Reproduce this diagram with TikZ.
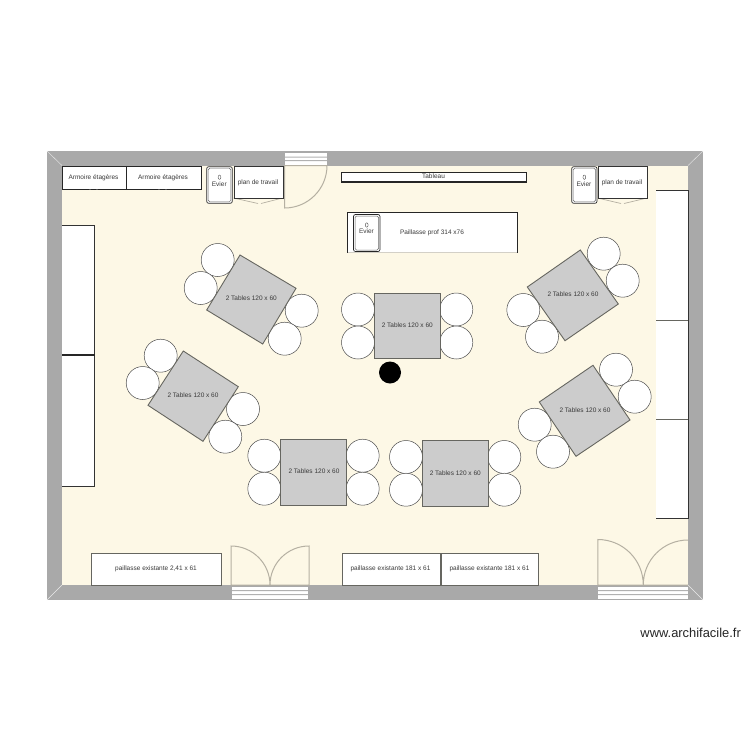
\documentclass[tikz,border=0pt]{standalone}
\usepackage{fontspec}
\setmainfont{Liberation Sans}
\definecolor{wallc}{HTML}{A9A9A9}
\definecolor{floorc}{HTML}{FDF8E6}
\definecolor{tablec}{HTML}{CCCCCC}
\definecolor{edgec}{HTML}{666660}
\definecolor{doorc}{HTML}{B5B0A2}
\definecolor{txtc}{HTML}{3A3A3A}
\tikzset{
  lbl/.style={font=\fontsize{6.5}{7}\selectfont,text=txtc,inner sep=0pt,anchor=base,yshift=-2.3pt},
  furn/.style={draw=black!85,fill=white,line width=0.9pt},
  furnsoft/.style={draw=edgec,fill=white,line width=0.9pt},
  tabl/.style={draw=edgec,fill=tablec,line width=0.9pt},
  chair/.style={draw=black!70,fill=white,line width=0.5pt},
  doorl/.style={draw=doorc,line width=1pt},
}
\newcommand{\chairat}[2]{\draw[chair] (#1,#2) circle (16.5);}
\newcommand{\evier}[4]{% x1 y1 x2 y2
  \draw[draw=black!85,fill=white,line width=0.7pt,rounded corners=2pt] (#1,#2) rectangle (#3,#4);
  \draw[draw=black!60,fill=white,line width=0.5pt,rounded corners=1.5pt] ({#1+1.5},{#2+1.5}) rectangle ({#3-1.5},{#4-1.5});
  \draw[black!70,line width=0.4pt] ({(#1+#3)/2},{#2+10.5}) ellipse (1.4 and 2.2);
}
\begin{document}
\begin{tikzpicture}[x=1pt,y=-1pt]
\useasboundingbox (0,0) rectangle (750,750);
\fill[white] (0,0) rectangle (750,750);
% walls and floor
\fill[wallc] (47,151) rectangle (703,600);
\fill[floorc] (62,165.5) rectangle (688,585);
\draw[white!75!wallc,line width=0.4pt] (47,151) -- (62,165.5) (703,151) -- (688,165.5) (47,600) -- (62,585) (703,600) -- (688,585);
% left and right cupboards
\fill[white] (62,225) rectangle (94.5,486);
\draw[black!80,line width=0.9pt] (62,225) -- (94.5,225) -- (94.5,486) -- (62,486);
\draw[black!85,line width=1.4pt] (62,355) -- (94.5,355);
\fill[white] (656,190) rectangle (688,518);
\draw[black!80,line width=0.9pt] (656,190) -- (688,190) -- (688,518) -- (656,518);
\draw[edgec,line width=1.6pt] (656,320.3) -- (688,320.3);
\draw[edgec,line width=1.2pt] (656,419.5) -- (688,419.5);
% armoires
\node[furn,minimum width=64pt,minimum height=23pt,inner sep=0pt,anchor=north west] (arm1) at (61.5,165.5) {};
\node[furn,minimum width=75pt,minimum height=23pt,inner sep=0pt,anchor=north west] (arm2) at (125.5,165.5) {};
\node[lbl] at (93.5,177.5) {Armoire étagères};
\node[lbl] at (163,177.5) {Armoire étagères};
\draw[black!70,line width=0.6pt,dash pattern=on 2pt off 5pt] (89,189.5) -- (98,189.5) (158,189.5) -- (168,189.5);
% eviers and plans
\evier{206.7}{166.7}{232.3}{203.3}
\node[lbl] (ev1) at (219.3,184.3) {Evier};
\draw[doorc,line width=0.7pt] (233.5,198) -- (258,203.5) (261,203.5) -- (282.5,198);
\node[furnsoft,draw=black!80,minimum width=49pt,minimum height=32.5pt,inner sep=0pt,anchor=north west] (pt1) at (233.5,165.5) {};
\node[lbl] at (258,181.7) {plan de travail};
\evier{571.7}{166.7}{597}{203.3}
\node[lbl] (ev2) at (584,184) {Evier};
\draw[doorc,line width=0.7pt] (597.5,198) -- (621,203.5) (624,203.5) -- (647,198);
\node[furnsoft,draw=black!80,minimum width=49.5pt,minimum height=32.5pt,inner sep=0pt,anchor=north west] (pt2) at (597.5,165.5) {};
\node[lbl] at (622,181.7) {plan de travail};
% top door
\fill[white] (285,152.5) rectangle (327,164.5);
\fill[wallc!90!white] (285,156.5) rectangle (327,157.5) (285,160) rectangle (327,161);
\draw[doorl] (327,165.5) arc (0:90:42.5) -- (284.5,165.5) -- (327,165.5);
% tableau
\node[furn,line width=1.1pt,minimum width=185.5pt,minimum height=9.8pt,inner sep=0pt,anchor=north west] (tab) at (340.5,171.6) {};
\node[lbl] at (433.5,175.7) {Tableau};
% paillasse prof
\fill[white] (347.5,212.7) rectangle (517,252.5);
\draw[black!85,line width=0.9pt] (347.5,252.5) -- (347.5,212.7) -- (517,212.7) -- (517,252.5);
\draw[doorc!60,line width=0.6pt] (347.5,252.5) -- (517,252.5);
\evier{353.5}{214.5}{380}{251.5}
\node[lbl] (ev3) at (366.5,231.5) {Evier};
\node[lbl] at (432,232.3) {Paillasse prof 314 x76};
% paillasses existantes
\node[furnsoft,minimum width=130pt,minimum height=32.5pt,inner sep=0pt,anchor=north west] (pe1) at (90.7,552.7) {};
\node[lbl] at (156,568.5) {paillasse existante 2,41 x 61};
\node[furnsoft,minimum width=98pt,minimum height=32.5pt,inner sep=0pt,anchor=north west] (pe2) at (341.5,552.7) {};
\node[lbl] at (390.5,568.5) {paillasse existante 181 x 61};
\node[furnsoft,minimum width=97.5pt,minimum height=32.5pt,inner sep=0pt,anchor=north west] (pe3) at (440.5,552.7) {};
\node[lbl] at (489.5,568.5) {paillasse existante 181 x 61};
% bottom doors
\fill[white] (232,586.5) rectangle (308,598.5);
\fill[wallc!90!white] (232,590) rectangle (308,591) (232,594) rectangle (308,595);
\draw[doorl] (270,585) arc (0:-90:39) -- (231,585) -- (309,585) -- (309,546) arc (-90:-180:39);
\fill[white] (598,586.5) rectangle (688,598.5);
\fill[wallc!90!white] (598,590) rectangle (688,591) (598,594) rectangle (688,595);
\draw[doorl] (643.3,585) arc (0:-90:45.5) -- (597.8,585) -- (688,585) (688,540) arc (-90:-180:44.7);
% chairs
\foreach \x/\y in {358/309.5,358/342.5,456.3/309.5,456.3/342.5,
  264.3/455.7,264.3/488.7,362.7/455.7,362.7/488.7,
  406/457,406/489.7,504.3/457,504.3/489.7,
  217.7/260,200.7/288,301.7/310.7,284.7/338.7,
  160.7/355.7,142.7/383,243/409,225.3/436.7,
  603.7/253.7,622.7/280.7,523.3/310,542/336.7,
  616/369.7,634.7/396.7,534.7/424.7,553/451.7}{\chairat{\x}{\y}}
% tables
\draw[tabl] (374.3,293.3) rectangle (440,358.7);
\node[lbl] (t1) at (407.3,325.5) {2 Tables 120 x 60};
\draw[tabl,line width=1.2pt] (280.7,439.3) rectangle (346.5,505.3);
\node[lbl] (t2) at (314,471.5) {2 Tables 120 x 60};
\draw[tabl,line width=1.2pt] (422.3,440.7) rectangle (488.5,506.3);
\node[lbl] (t3) at (455.3,473.5) {2 Tables 120 x 60};
\draw[tabl] (240,255) -- (296,288.3) -- (262.7,344) -- (206.7,310) -- cycle;
\node[lbl] (t4) at (251.3,298.5) {2 Tables 120 x 60};
\draw[tabl] (183.3,351) -- (238.3,386.7) -- (203,441.3) -- (148,405.3) -- cycle;
\node[lbl] (t5) at (193,395.5) {2 Tables 120 x 60};
\draw[tabl] (580.3,250) -- (618.3,304) -- (565,340.7) -- (527.3,287) -- cycle;
\node[lbl] (t6) at (573,294.5) {2 Tables 120 x 60};
\draw[tabl] (593,365.3) -- (630,420) -- (576,456.3) -- (539.3,402) -- cycle;
\node[lbl] (t7) at (585,410.5) {2 Tables 120 x 60};
% black dot
\fill[black] (390,372.5) circle (11);
% credit
\node[font=\fontsize{12.9}{14}\selectfont,text=black!85,inner sep=0pt,anchor=east] (cr) at (741,632.5) {www.archifacile.fr};
\end{tikzpicture}
\end{document}
